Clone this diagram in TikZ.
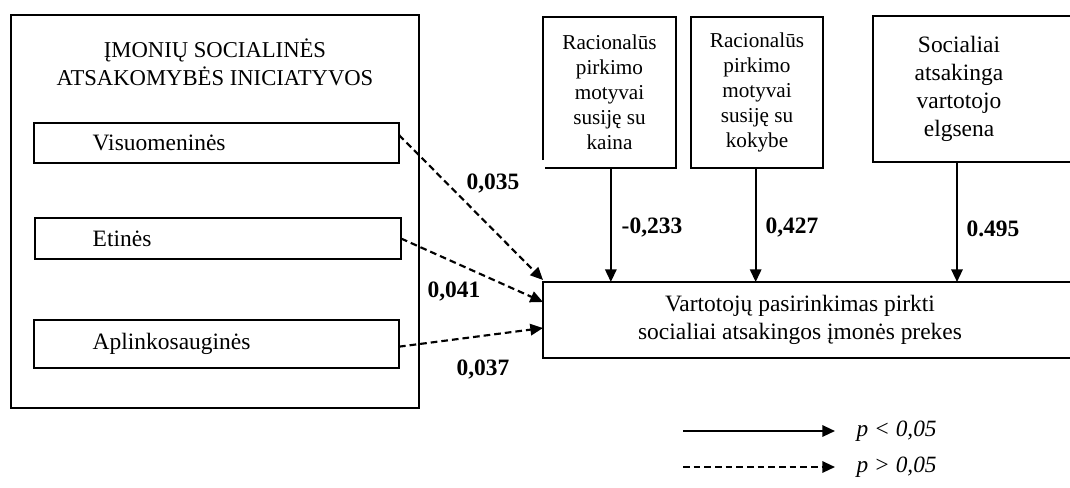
\documentclass[tikz,border=0pt]{standalone}
\usepackage{fontspec}
\setmainfont{Liberation Serif}
\usetikzlibrary{arrows.meta}
\begin{document}
\begin{tikzpicture}[x=0.75pt,y=-0.75pt,
  boxline/.style={line width=1.8pt},
  thinline/.style={line width=0.9pt},
  plain/.style={inner sep=0pt, outer sep=0pt},
  arr/.style={line width=1.6pt, -{Triangle[length=9.5pt,width=8.5pt]}},
  dasharr/.style={arr, dash pattern=on 5pt off 3pt},
  lbl/.style={font=\fontsize{17.6}{20}\selectfont\bfseries},
  bigtext/.style={font=\fontsize{17.6}{21}\selectfont, align=center},
  smalltext/.style={font=\fontsize{15.9}{18.75}\selectfont, align=center},
  legtext/.style={font=\fontsize{17.5}{20}\selectfont\itshape, anchor=west}]
\useasboundingbox (0,0) rectangle (1070,487);
\clip (0,0) rectangle (1070,487);

% left group
\node[plain, draw, boxline, minimum width=306pt, minimum height=294.75pt] (big) at (215,211.5) {};
\node[bigtext, font=\fontsize{17}{21}\selectfont] (title) at (215,62) {ĮMONIŲ SOCIALINĖS\\ATSAKOMYBĖS INICIATYVOS};
\node[plain, draw, thinline, minimum width=273.75pt, minimum height=30pt] (vis) at (216.5,143) {};
\node[plain, draw, thinline, minimum width=274.5pt, minimum height=30.75pt] (eti) at (218,238.5) {};
\node[plain, draw, thinline, minimum width=273.75pt, minimum height=36pt] (apl) at (216.5,344) {};
\node[bigtext, anchor=west] (vist) at (88,143) {Visuomeninės};
\node[bigtext, anchor=west] (etit) at (88,238.5) {Etinės};
\node[bigtext, anchor=west] (aplt) at (88,344) {Aplinkosauginės};

% top boxes
\node[plain, smalltext, minimum width=99.75pt, minimum height=113.25pt] (b1) at (609.5,92.5)
  {Racionalūs\\pirkimo\\motyvai\\susiję su\\kaina};
\draw[boxline] ([yshift=6pt]b1.south west) -- (b1.north west) -- (b1.north east) -- (b1.south east) -- ([xshift=1.5pt]b1.south west);
\node[plain, draw, boxline, smalltext, minimum width=99pt, minimum height=113.25pt] (b2) at (757,92.5)
  {Racionalūs\\pirkimo\\motyvai\\susiję su\\kokybe};
\node[plain, bigtext, minimum width=129pt, minimum height=109.5pt] (b3) at (959,89)
  {Socialiai\\atsakinga\\vartotojo\\elgsena};
\draw[boxline] (1075,16) -- (b3.north west) -- (b3.south west) -- (1075,162);

% target
\node[plain, bigtext, minimum width=385.5pt, minimum height=57pt] (tgt) at (800,320)
  {Vartotojų pasirinkimas pirkti\\socialiai atsakingos įmonės prekes};
\draw[boxline] (1075,282) -- (tgt.north west) -- (tgt.south west) -- (1075,358);

% solid arrows
\draw[arr] ([xshift=1pt]b1.south) -- ([xshift=1pt]b1.south |- tgt.north);
\draw[arr] ([xshift=-1pt]b2.south) -- ([xshift=-1pt]b2.south |- tgt.north);
\draw[arr] ([xshift=-1.5pt]b3.south) -- ([xshift=-1.5pt]b3.south |- tgt.north);
\node[lbl] (l1) at (652,228) {-0,233};
\node[lbl] (l2) at (792,228) {0,427};
\node[lbl] (l3) at (993,229) {0.495};

% dashed arrows
\draw[dasharr] ([yshift=6pt]vis.east) -- ([yshift=1.5pt]tgt.north west);
\draw[dasharr] (eti.east) -- ([yshift=13.5pt]tgt.west);
\draw[dasharr] ([yshift=-2pt]apl.east) -- ([yshift=-6pt]tgt.west);
\node[lbl] (d1) at (493,184) {0,035};
\node[lbl] (d2) at (454,292) {0,041};
\node[lbl] (d3) at (483,370) {0,037};

% legend
\coordinate (s1) at (683,431);
\coordinate (e1) at (835,431);
\coordinate (s2) at (683,467);
\coordinate (e2) at (835,467);
\draw[arr] (s1) -- (e1);
\draw[dasharr] (s2) -- (e2);
\node[legtext] (p1) at (852,431) {p < 0,05};
\node[legtext] (p2) at (852,467) {p > 0,05};
\end{tikzpicture}
\end{document}
